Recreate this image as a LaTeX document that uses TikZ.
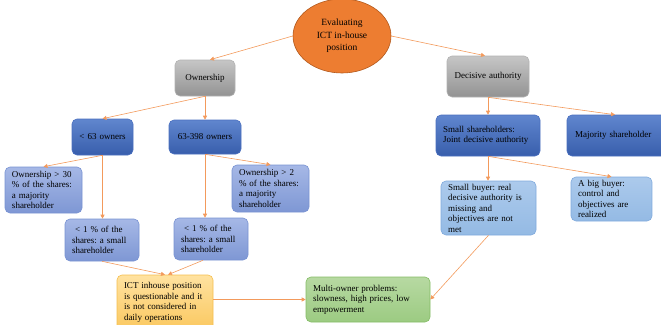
\documentclass[tikz,border=0pt]{standalone}
\usepackage{fontspec}
\setmainfont{Liberation Serif}
\usetikzlibrary{arrows.meta,shapes.geometric}
\frenchspacing
\definecolor{arrowc}{HTML}{F39A5C}
\definecolor{ellfill}{HTML}{ED7D31}
\definecolor{ellline}{HTML}{B35A1E}
\tikzset{
  bx/.style={rounded corners=5pt, line width=0.6pt, font=\fontsize{9}{10.5}\selectfont\frenchspacing, align=left, inner xsep=7pt, inner ysep=2pt, text=black},
  grayb/.style={bx, draw=gray!60, top color=gray!45, bottom color=gray!85},
  blueb/.style={bx, draw={rgb,255:red,74;green,111;blue,191}, top color={rgb,255:red,96;green,134;blue,206}, bottom color={rgb,255:red,56;green,94;blue,172}},
  lavb/.style={bx, draw={rgb,255:red,120;green,146;blue,210}, top color={rgb,255:red,166;green,184;blue,230}, bottom color={rgb,255:red,126;green,151;blue,212}},
  ltblb/.style={bx, draw={rgb,255:red,128;green,170;blue,221}, top color={rgb,255:red,172;green,202;blue,236}, bottom color={rgb,255:red,148;green,186;blue,228}},
  yelb/.style={bx, draw={rgb,255:red,245;green,190;blue,78}, top color={rgb,255:red,255;green,226;blue,160}, bottom color={rgb,255:red,250;green,200;blue,96}},
  grnb/.style={bx, draw={rgb,255:red,132;green,188;blue,101}, top color={rgb,255:red,183;green,217;blue,162}, bottom color={rgb,255:red,156;green,203;blue,130}},
  arr/.style={draw=arrowc, line width=0.6pt, -{Triangle[width=4pt,length=4pt]}}
}
\begin{document}
\begin{tikzpicture}[x=1pt,y=-1pt]
\useasboundingbox (0,0) rectangle (661,324);
\clip (0,0) rectangle (661,324);
% root
\node[ellipse, draw=ellline, fill=ellfill, line width=0.6pt, minimum width=98pt, minimum height=74pt, inner sep=0pt, align=center, font=\fontsize{9.5}{12.5}\selectfont] (root) at (342,36) {Evaluating\\ICT in-house\\position};
% level 1
\node[grayb, align=center, text width=46pt, minimum height=36pt] (own) at (205,78) {Ownership};
\node[grayb, align=center, text width=68pt, minimum height=41pt] (dec) at (488,76.5) {Decisive authority};
% level 2
\node[blueb, align=center, text width=47pt, minimum height=36pt] (lt) at (102.5,137) {< 63 owners};
\node[blueb, align=center, text width=58pt, minimum height=34pt] (mid) at (205,137) {63-398 owners};
\node[blueb, text width=90pt, minimum height=41pt] (ssh) at (488,135.5) {Small shareholders:\\Joint decisive authority};
\node[blueb, text width=92pt, minimum height=41pt, inner xsep=8pt] (maj) at (621,135.5) {Majority shareholder};
% level 3
\node[lavb, text width=63pt, minimum height=46pt] (o30) at (43.5,190) {Ownership > 30\\\% of the shares:\\a majority\\shareholder};
\node[lavb, text width=63pt, minimum height=47pt] (o2) at (270.5,188.5) {Ownership > 2\\\% of the shares:\\a majority\\shareholder};
\node[lavb, text width=60pt, minimum height=42pt] (l1) at (102,240) {\ < 1 \% of the\\shares: a small\\shareholder};
\node[lavb, text width=60pt, minimum height=42pt] (r1) at (211,239) {\ < 1 \% of the\\shares: a small\\shareholder};
\node[ltblb, text width=81pt, minimum height=54pt] (sb) at (488.5,208) {Small buyer: real\\decisive authority is\\missing and\\objectives are not\\met};
\node[ltblb, text width=67pt, minimum height=44pt] (bb) at (611.5,199) {A big buyer:\\control and\\objectives are\\realized};
% bottom
\node[yelb, text width=82pt, minimum height=55pt] (ict) at (165,302.5) {ICT inhouse position\\is questionable and it\\is not considered in\\daily operations};
\node[grnb, text width=110pt, minimum height=45pt] (mo) at (368,299.5) {Multi-owner problems:\\slowness, high prices, low\\empowerment};
% connectors
\draw[arr] (root.west) -- ([xshift=5pt]own.north);
\draw[arr] (root.east) -- ([xshift=-3pt]dec.north);
\draw[arr] (own.south) -- (lt.north);
\draw[arr] (own.south) -- (mid.north);
\draw[arr] (lt.south) -- (o30.north);
\draw[arr] (lt.south) -- (lt.south |- l1.north);
\draw[arr] (mid.south) -- (o2.north);
\draw[arr] (mid.south) -- (mid.south |- r1.north);
\draw[arr] (l1.south) -- (ict.north);
\draw[arr] ([xshift=-8pt]r1.south) -- ([xshift=3pt]ict.north);
\draw[arr] (ict.east |- mo.west) -- (mo.west);
\draw[arr] (dec.south) -- (dec.south |- ssh.north);
\draw[arr] (dec.south) -- ([xshift=-6pt]maj.north);
\draw[arr] (ssh.south) -- (ssh.south |- sb.north);
\draw[arr] (ssh.south) -- (bb.north);
\draw[arr] (sb.south) -- (mo.east);
\end{tikzpicture}
\end{document}
